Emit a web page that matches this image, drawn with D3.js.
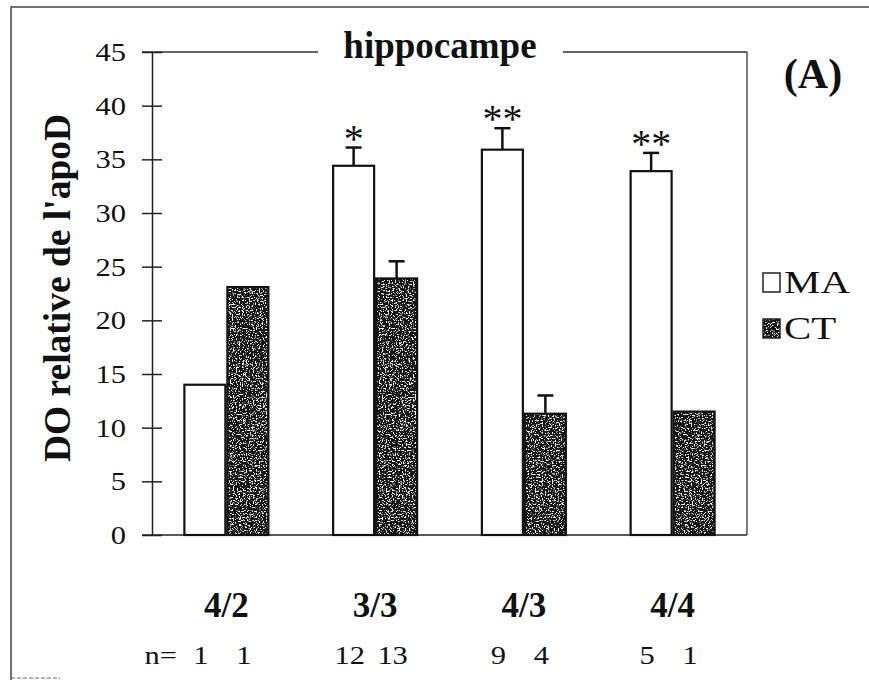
<!DOCTYPE html>
<html><head><meta charset="utf-8">
<script src="https://cdn.jsdelivr.net/npm/d3@7"></script>
<style>
html,body{margin:0;padding:0;background:#fff;}
svg{display:block;}
svg text{font-family:"Liberation Serif","Times New Roman",Times,"DejaVu Serif",serif;}
</style></head>
<body>
<svg id="chart" width="869" height="680"></svg>
<script>
// ---- data ----
const groups = ["4/2", "3/3", "4/3", "4/4"];
const series = ["MA", "CT"];
const maValues = [14.0, 34.4, 35.9, 33.9];
const ctValues = [23.1, 23.9, 11.3, 11.5];
const maErrors = [null, 1.7, 2.0, 1.7];
const ctErrors = [null, 1.6, 1.7, null];
const stars = ["", "*", "**", "**"];
const maN = ["1", "12", "9", "5"];
const ctN = ["1", "13", "4", "1"];
const yTicks = [0, 5, 10, 15, 20, 25, 30, 35, 40, 45];
const title = "hippocampe";
const yLabel = "DO relative de l'apoD";
const panel = "(A)";

(function draw() {
const svg = d3.select("#chart");
const sx = 1.22; // horizontal stretch of regular text

// speckle filter for CT bars
const defs = svg.append("defs");
const f = defs.append("filter").attr("id", "speckle")
  .attr("x", 0).attr("y", 0).attr("width", 1).attr("height", 1);
f.append("feTurbulence").attr("type", "fractalNoise").attr("baseFrequency", 0.7)
  .attr("numOctaves", 2).attr("seed", 11).attr("result", "n");
f.append("feColorMatrix").attr("in", "n").attr("type", "matrix")
  .attr("values", "0 0 0 0 0.92  0 0 0 0 0.92  0 0 0 0 0.92  10 0 0 0 -5.6").attr("result", "w");
f.append("feComposite").attr("in", "w").attr("in2", "SourceGraphic").attr("operator", "atop");

// outer frame
svg.append("path").attr("d", "M11,680 L11,7 L869,7")
  .attr("fill", "none").attr("stroke", "#444").attr("stroke-width", 1.5);
svg.append("line").attr("x1", 11).attr("x2", 60).attr("y1", 678).attr("y2", 678)
  .attr("stroke", "#666").attr("stroke-width", 1.2).attr("stroke-dasharray", "4,2");

const pL = 152, pR = 747, pT = 52, pB = 535;
const y = d3.scaleLinear().domain([0, 45]).range([pB, pT]);
const x = d3.scaleBand().domain(groups).range([pL, pR]).padding(0);
const bw = x.bandwidth();
const xs = d3.scaleBand().domain(series).range([bw * 0.211, bw * 0.789]).padding(0);

// plot frame: top line with title gap, right line
svg.append("line").attr("x1", pL - 10).attr("x2", 318).attr("y1", y(45)).attr("y2", y(45))
  .attr("stroke", "#333").attr("stroke-width", 1.3);
svg.append("line").attr("x1", 563).attr("x2", pR).attr("y1", y(45)).attr("y2", y(45))
  .attr("stroke", "#333").attr("stroke-width", 1.3);
svg.append("line").attr("x1", pR).attr("x2", pR).attr("y1", y(45)).attr("y2", y(0))
  .attr("stroke", "#333").attr("stroke-width", 1.3);

// title
svg.append("text").attr("x", 440).attr("y", 58).attr("text-anchor", "middle")
  .attr("font-weight", "bold").attr("font-size", 37)
  .attr("fill", "#111").text(title);

// panel label
svg.append("text").attr("x", 813).attr("y", 88).attr("text-anchor", "middle")
  .attr("font-weight", "bold").attr("font-size", 42)
  .attr("fill", "#111").text(panel);

// y axis
const yAxis = d3.axisLeft(y).tickValues(yTicks).tickSizeInner(10).tickSizeOuter(0).tickPadding(16);
const gy = svg.append("g").attr("transform", `translate(${pL},0)`).call(yAxis);
gy.attr("font-family", null);
gy.select(".domain").attr("stroke", "#222").attr("stroke-width", 1.5);
gy.selectAll(".tick line").attr("x1", 10).attr("stroke", "#222").attr("stroke-width", 1.5);
gy.selectAll(".tick text").attr("font-size", 25).attr("fill", "#111")
  .attr("transform", `scale(${sx},1)`).attr("x", -26 / sx).attr("dy", "0.34em");

// x axis line
svg.append("line").attr("x1", pL - 10).attr("x2", pR).attr("y1", y(0)).attr("y2", y(0))
  .attr("stroke", "#222").attr("stroke-width", 1.5);

// y label
svg.append("text").attr("transform", "translate(70,288) rotate(-90)")
  .attr("text-anchor", "middle").attr("font-weight", "bold")
  .attr("font-size", 37.5).attr("fill", "#111").text(yLabel);

// bars
const rows = groups.map((g, i) => ({
  g, vals: [
    {s: "MA", v: maValues[i], e: maErrors[i]},
    {s: "CT", v: ctValues[i], e: ctErrors[i]}
  ], star: stars[i], nMA: maN[i], nCT: ctN[i]
}));

const gg = svg.selectAll(".grp").data(rows).enter().append("g")
  .attr("transform", d => `translate(${x(d.g)},0)`);

gg.selectAll(".err").data(d => d.vals.filter(v => v.e != null)).enter().append("g")
  .each(function(d) {
    const cx = xs(d.s) + xs.bandwidth() / 2;
    const s = d3.select(this);
    s.append("line").attr("x1", cx).attr("x2", cx).attr("y1", y(d.v)).attr("y2", y(d.v + d.e))
      .attr("stroke", "#111").attr("stroke-width", 2.5);
    s.append("line").attr("x1", cx - 8).attr("x2", cx + 8).attr("y1", y(d.v + d.e)).attr("y2", y(d.v + d.e))
      .attr("stroke", "#111").attr("stroke-width", 2.5);
  });

// bar fills
gg.selectAll(".bar").data(d => d.vals).enter().append("rect")
  .attr("x", d => xs(d.s) + 1)
  .attr("width", xs.bandwidth() - 2)
  .attr("y", d => y(d.v))
  .attr("height", d => y(0) - y(d.v))
  .attr("fill", d => d.s === "MA" ? "#fff" : "#151515")
  .attr("filter", d => d.s === "CT" ? "url(#speckle)" : null);
// bar outlines
gg.selectAll(".outline").data(d => d.vals).enter().append("rect")
  .attr("x", d => xs(d.s) + 1)
  .attr("width", xs.bandwidth() - 2)
  .attr("y", d => y(d.v))
  .attr("height", d => y(0) - y(d.v))
  .attr("fill", "none")
  .attr("stroke", "#111").attr("stroke-width", 2.2);

// significance stars
gg.append("text")
  .attr("x", d => xs("MA") + xs.bandwidth() / 2)
  .attr("y", d => y(d.vals[0].v + (d.vals[0].e || 0)) + 4)
  .attr("text-anchor", "middle").attr("font-size", 40)
  .attr("fill", "#111").text(d => d.star);

// category labels
gg.append("text").attr("x", bw / 2).attr("y", 617).attr("text-anchor", "middle")
  .attr("font-weight", "bold").attr("font-size", 35)
  .attr("fill", "#111").text(d => d.g);

// n labels
gg.append("text").attr("text-anchor", "middle").attr("font-size", 25)
  .attr("fill", "#111")
  .attr("transform", d => `translate(${xs("MA") + xs.bandwidth() / 2 - 4},664) scale(${sx},1)`)
  .text(d => d.nMA);
gg.append("text").attr("text-anchor", "middle").attr("font-size", 25)
  .attr("fill", "#111")
  .attr("transform", d => `translate(${xs("CT") + xs.bandwidth() / 2 - 4},664) scale(${sx},1)`)
  .text(d => d.nCT);
svg.append("text").attr("text-anchor", "end").attr("font-size", 25)
  .attr("fill", "#111").attr("transform", `translate(177,664) scale(${sx},1)`).text("n=");

// legend
const leg = svg.append("g").attr("transform", "translate(762,272)");
const li = leg.selectAll("g").data(series).enter().append("g")
  .attr("transform", (d, i) => `translate(0,${i * 46})`);
li.append("rect").attr("x", 1).attr("y", 1).attr("width", 17).attr("height", 19)
  .attr("fill", d => d === "MA" ? "#fff" : "#151515")
  .attr("filter", d => d === "CT" ? "url(#speckle)" : null);
li.append("rect").attr("x", 1).attr("y", 1).attr("width", 17).attr("height", 19)
  .attr("fill", "none").attr("stroke", "#222").attr("stroke-width", 1.5);
li.append("text").attr("font-size", 31).attr("fill", "#111")
  .attr("transform", `translate(22,21) scale(1.32,1)`).text(d => d);
})();
</script>
</body></html>
